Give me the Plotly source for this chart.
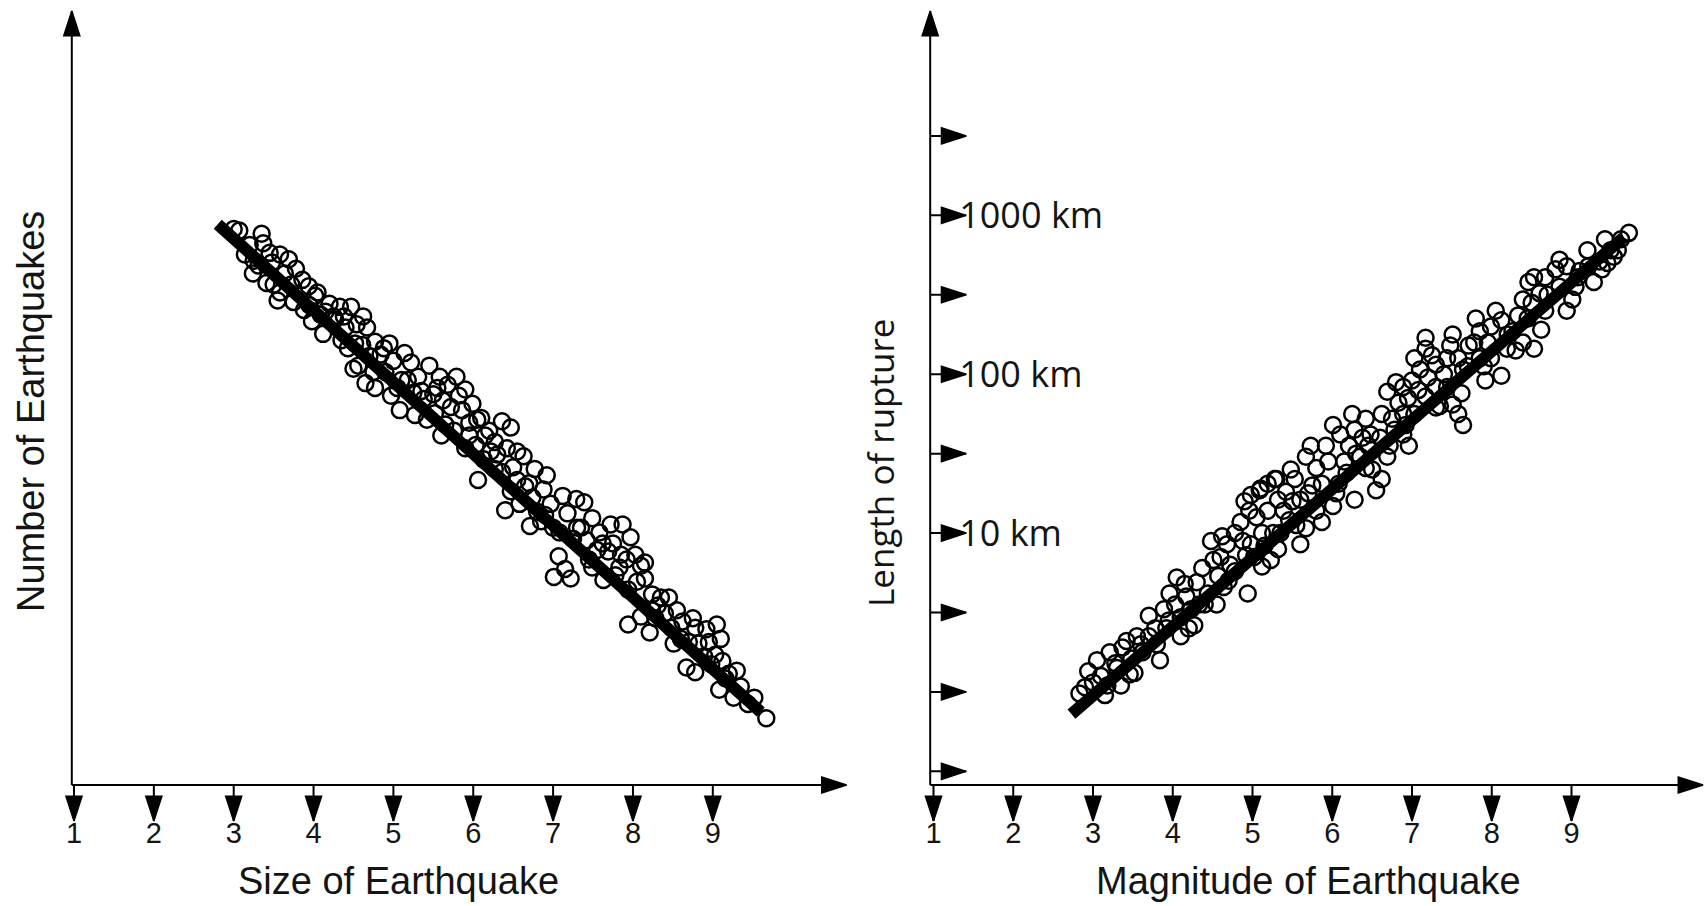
import plotly.graph_objects as go

W, H = 1706, 906

# ---------------- tick definitions ----------------
mag_ticks = [1, 2, 3, 4, 5, 6, 7, 8, 9]
mag_labels = ["1", "2", "3", "4", "5", "6", "7", "8", "9"]
rupture_arrow_log = [-0.5, 0, 0.5, 1, 1.5, 2, 2.5, 3, 3.5]   # log10(km) of the arrow ticks
rupture_label_km = [10, 100, 1000]
rupture_label_text = ["10 km", "100 km", "1000 km"]

# ---------------- left panel: size vs log10(number) ----------------
size_mag = [3.07, 3.35, 3.37, 3.14, 3.31, 3.24, 3.41, 3.58, 3.69, 3.64, 3.78, 3.86, 3.58, 3.75, 3.94, 4.02, 3.88, 4.09, 3.48,
            4.20, 4.33, 4.47, 4.27, 4.12, 4.40, 4.54, 4.67, 4.61, 4.43, 4.77, 4.84, 4.56, 4.65, 4.90, 5.00, 5.14, 5.22, 4.97, 5.08, 4.77,
            5.31, 5.45, 5.58, 5.68, 5.79, 5.90, 5.38, 5.52, 5.65, 5.76, 5.27, 5.86, 5.99, 6.10, 6.20, 6.03, 6.13, 6.06, 6.27, 6.36, 6.47, 5.90, 5.72, 6.27,
            6.36, 6.50, 6.63, 6.77, 6.47, 6.58, 6.40, 6.74, 6.88, 6.97, 6.85, 6.71, 7.08, 7.18, 7.29, 7.39, 7.49, 7.07, 7.15, 7.22, 7.01, 7.42,
            7.58, 7.72, 7.87, 7.97, 8.03, 8.10, 7.69, 7.83, 7.94, 7.49, 7.63, 8.24, 8.31, 7.94, 8.10, 8.21, 8.40, 8.48, 8.62, 8.78, 8.24,
            8.92, 9.05, 8.67, 8.78, 8.89, 9.03, 9.12, 9.16, 9.08, 9.26, 9.44, 9.67, 8.51, 8.82,
            3.20, 3.50, 3.95, 4.15, 4.35, 4.50, 4.70, 4.95, 5.10, 5.25, 5.50, 5.60, 5.95, 6.15, 6.30, 6.55,
            6.65, 6.90, 7.00, 7.30, 7.55, 7.75, 7.85, 8.05, 8.15, 8.35, 8.55, 8.70, 8.95, 9.20, 9.35,
            3.00, 3.25, 3.45, 3.55, 3.72, 3.98, 4.05, 4.25, 4.38, 4.52, 4.62, 4.75, 4.88, 5.05, 5.18, 5.35,
            5.42, 5.55, 5.62, 5.82, 5.95, 6.05, 6.22, 6.42, 6.55, 6.70, 6.80, 6.92, 7.12, 7.25, 7.35, 7.45,
            7.62, 7.78, 7.92, 8.15, 8.28, 8.45, 8.60, 8.75, 8.98, 9.10, 9.30, 9.52]
size_logn = [3.49, 3.47, 3.41, 3.34, 3.27, 3.22, 3.16, 3.34, 3.31, 3.22, 3.25, 3.18, 3.10, 3.04, 3.14, 3.08, 2.99, 2.96, 3.29,
             3.03, 3.01, 3.01, 2.93, 2.84, 2.88, 2.90, 2.88, 2.77, 2.75, 2.79, 2.71, 2.64, 2.53, 2.60, 2.67, 2.72, 2.66, 2.45, 2.36, 2.50,
             2.57, 2.64, 2.57, 2.52, 2.57, 2.49, 2.43, 2.34, 2.27, 2.23, 2.33, 2.36, 2.40, 2.31, 2.23, 2.14, 2.05, 1.92, 2.16, 2.29, 2.25, 2.12, 2.38, 1.99,
             1.97, 2.00, 2.07, 1.99, 1.85, 1.77, 1.73, 1.81, 1.86, 1.77, 1.66, 1.63, 1.59, 1.71, 1.80, 1.78, 1.68, 1.44, 1.36, 1.30, 1.31, 1.54,
             1.59, 1.64, 1.64, 1.56, 1.45, 1.38, 1.47, 1.37, 1.23, 1.37, 1.29, 1.20, 1.13, 1.01, 1.06, 0.96, 1.08, 0.99, 1.03, 0.99, 1.10,
             0.98, 1.01, 0.74, 0.71, 0.81, 0.82, 0.78, 0.67, 0.60, 0.55, 0.51, 0.42, 0.89, 0.89,
             3.40, 3.15, 3.02, 2.98, 2.80, 2.62, 2.70, 2.78, 2.55, 2.47, 2.46, 2.20, 2.28, 2.20, 2.08, 1.92,
             1.88, 1.70, 1.62, 1.62, 1.48, 1.52, 1.45, 1.28, 1.30, 1.18, 1.10, 0.90, 0.90, 0.70, 0.62,
             3.50, 3.30, 3.35, 3.05, 3.15, 2.92, 3.10, 2.95, 2.95, 2.78, 2.95, 2.60, 2.75, 2.50, 2.55, 2.48,
             2.30, 2.50, 2.42, 2.45, 2.20, 2.30, 2.10, 2.12, 2.10, 1.90, 1.72, 1.95, 1.82, 1.55, 1.62, 1.42,
             1.52, 1.32, 1.42, 1.40, 1.05, 1.18, 0.92, 1.05, 0.76, 0.92, 0.72, 0.55]
fit_size_mag = [2.80, 9.60]
fit_size_logn = [3.53, 0.46]

# ---------------- right panel: magnitude vs log10(rupture length, km) ----------------
rupt_mag = [2.83, 2.94, 3.10, 3.21, 3.28, 3.37, 3.48, 3.55, 3.62, 3.35, 3.18, 3.46,
            3.78, 3.89, 3.96, 4.03, 4.17, 4.10, 4.23, 4.30, 4.37, 4.44, 4.27, 4.10, 3.84,
            4.51, 4.57, 4.68, 4.78, 4.85, 4.96, 4.98, 5.09, 4.92, 4.78, 4.64, 4.55, 4.98, 5.12, 5.19, 4.94,
            5.19, 5.28, 5.32, 5.42, 5.53, 5.67, 5.73, 5.80, 5.87, 5.60, 5.46, 5.26, 5.23, 5.32, 5.12, 5.60, 5.67, 5.80, 5.87, 5.39,
            6.01, 6.10, 6.21, 6.28, 6.42, 6.48, 6.35, 6.18, 6.08, 6.55, 6.62, 6.28, 6.01, 6.62, 6.69, 6.83, 6.78, 6.89, 6.69, 6.42,
            7.03, 7.17, 7.10, 7.30, 7.44, 7.17, 7.51, 7.00, 6.89, 7.17, 7.30, 7.03, 6.96, 7.58, 7.71, 7.78, 7.64, 7.44, 7.58, 7.64, 7.51, 6.89, 7.30,
            7.85, 7.99, 8.12, 8.26, 8.33, 8.39, 8.46, 8.53, 8.60, 8.53, 8.39, 8.19, 7.99, 8.12, 7.92, 7.85,
            8.67, 8.80, 8.94, 9.01, 8.94, 9.08, 9.21, 9.35, 9.49, 9.62, 9.72, 9.28, 9.38, 9.53, 8.67,
            3.00, 3.30, 3.60, 3.70, 3.95, 4.15, 4.40, 4.60, 4.72, 4.88, 5.05, 5.15, 5.50, 5.70, 5.95, 6.15,
            6.30, 6.45, 6.60, 6.75, 6.95, 7.20, 7.40, 7.70, 7.95, 8.20, 8.45, 8.70, 8.85, 9.10, 9.45,
            2.90, 3.05, 3.15, 3.42, 3.52, 3.70, 3.80, 3.92, 4.05, 4.20, 4.33, 4.48, 4.62, 4.70, 4.90, 5.02,
            5.10, 5.30, 5.35, 5.48, 5.55, 5.75, 5.92, 6.05, 6.25, 6.38, 6.50, 6.72, 6.80, 6.92, 7.08, 7.25,
            7.35, 7.48, 7.62, 7.80, 7.90, 8.05, 8.30, 8.50, 8.62, 8.85, 9.05, 9.20, 9.42, 9.58]
rupt_log_km = [-0.01, 0.13, 0.10, 0.25, 0.18, 0.28, 0.21, 0.35, 0.25, 0.04, 0.04, 0.11,
               0.40, 0.52, 0.62, 0.55, 0.60, 0.47, 0.52, 0.69, 0.78, 0.62, 0.42, 0.35, 0.20,
               0.83, 0.73, 0.93, 1.00, 1.07, 1.14, 1.24, 1.27, 0.86, 0.76, 0.66, 0.55, 0.93, 1.00, 1.14, 0.62,
               1.31, 1.34, 1.21, 1.26, 1.34, 1.48, 1.55, 1.41, 1.31, 1.21, 1.08, 1.00, 0.83, 0.90, 0.79, 0.93, 1.03, 1.14, 1.07, 1.14,
               1.68, 1.62, 1.55, 1.65, 1.72, 1.62, 1.48, 1.38, 1.31, 1.27, 1.34, 1.21, 1.17, 1.75, 1.89, 1.82, 1.65, 1.62, 1.48, 1.41,
               2.10, 2.16, 2.03, 2.06, 2.10, 2.23, 2.25, 1.96, 1.92, 1.86, 1.79, 1.75, 1.55, 2.10, 2.18, 2.20, 2.03, 1.92, 1.75, 1.68, 1.81, 1.75, 1.92,
               2.27, 2.30, 2.34, 2.27, 2.37, 2.47, 2.58, 2.61, 2.51, 2.16, 2.20, 2.16, 2.10, 1.99, 1.96, 2.10,
               2.61, 2.66, 2.68, 2.47, 2.40, 2.61, 2.68, 2.71, 2.78, 2.85, 2.89, 2.58, 2.66, 2.74, 2.40,
               0.06, 0.15, 0.30, 0.35, 0.45, 0.68, 0.55, 0.85, 0.80, 0.95, 1.10, 0.92, 1.20, 1.25, 1.45, 1.45,
               1.50, 1.55, 1.60, 1.72, 1.85, 1.98, 2.00, 2.05, 2.20, 2.25, 2.35, 2.50, 2.55, 2.65, 2.70,
               0.03, 0.20, -0.02, 0.32, 0.12, 0.48, 0.30, 0.40, 0.72, 0.40, 0.55, 0.95, 0.98, 0.70, 1.20, 0.85,
               1.28, 1.34, 1.00, 1.40, 1.05, 1.30, 1.55, 1.25, 1.75, 1.60, 1.40, 1.55, 1.95, 1.68, 1.90, 2.12,
               1.80, 2.18, 1.88, 2.35, 2.05, 2.40, 2.15, 2.45, 2.28, 2.72, 2.55, 2.78, 2.85, 2.78]
fit_rupt_mag = [2.73, 9.65]
fit_rupt_log_km = [-0.14, 2.86]

rupt_km = [10 ** v for v in rupt_log_km]
fit_rupt_km = [10 ** v for v in fit_rupt_log_km]

# ---------------- figure ----------------
LEFT_FONT = "Liberation Sans, Arial, sans-serif"
RIGHT_FONT = "Open Sans, Liberation Sans, sans-serif"
INK = "#141414"

marker = dict(symbol="circle-open", size=16, color="black", line=dict(width=2.5))

# pixel geometry of the page (axis line at y = 785 px)
AX_PX = 785.0
Y_PX_PER_UNIT = 158.85     # pixels per decade (both panels)
LX_PX_PER_UNIT = 79.85
RX_PX_PER_UNIT = 79.75

# axis ranges (data units); log axis ranges are log10(km)
L_XMIN, L_XMAX = 1 - 74 / LX_PX_PER_UNIT, 1 + (853 - 74) / LX_PX_PER_UNIT
L_AXIS_X = 1 + (71.8 - 74) / LX_PX_PER_UNIT
L_Y0 = 0.0
L_YMIN, L_YMAX = -(H - AX_PX) / Y_PX_PER_UNIT, AX_PX / Y_PX_PER_UNIT
R_XMIN, R_XMAX = 1 - (933.5 - 853) / RX_PX_PER_UNIT, 1 + (W - 933.5) / RX_PX_PER_UNIT
R_AXIS_X = 1 + (930.2 - 933.5) / RX_PX_PER_UNIT
R_Y0 = -0.586
R_YMIN, R_YMAX = R_Y0 - (H - AX_PX) / Y_PX_PER_UNIT, R_Y0 + AX_PX / Y_PX_PER_UNIT

TICK_DROP = 36 / Y_PX_PER_UNIT       # length of downward tick arrows
TOP_GAP = 11 / Y_PX_PER_UNIT         # gap between y-axis arrow tip and page top

# plotly "arrow" marker: tip sits on the point; width ~1.24 r, length ~1.9 r
HEAD_SIZE = 26
ANGLE = {"up": 0, "right": 90, "down": 180}


def arrows_trace(segments, xa, ya, ytrans=lambda v: v):
    """segments: (tail, tip, direction) in axis units; draw stems + arrowheads."""
    lx, ly, hx, hy, ha = [], [], [], [], []
    for tail, tip, d in segments:
        lx += [tail[0], tip[0], None]
        ly += [ytrans(tail[1]), ytrans(tip[1]), None]
        hx.append(tip[0])
        hy.append(ytrans(tip[1]))
        ha.append(ANGLE[d])
    stems = go.Scatter(x=lx, y=ly, mode="lines", line=dict(color="black", width=2),
                       xaxis=xa, yaxis=ya, cliponaxis=False, showlegend=False, hoverinfo="skip")
    heads = go.Scatter(x=hx, y=hy, mode="markers",
                       marker=dict(symbol="arrow", size=HEAD_SIZE, angle=ha, color="black",
                                   line=dict(width=1.5, color="black")),
                       xaxis=xa, yaxis=ya, cliponaxis=False, showlegend=False, hoverinfo="skip")
    return [stems, heads]


left_segments = [((L_AXIS_X, L_Y0), (L_AXIS_X, L_YMAX - TOP_GAP), "up"),
                 ((L_AXIS_X, L_Y0), (10.674, L_Y0), "right")]
left_segments += [((k, L_Y0), (k, L_Y0 - TICK_DROP), "down") for k in mag_ticks]

right_segments = [((R_AXIS_X, R_Y0), (R_AXIS_X, R_YMAX - TOP_GAP), "up"),
                  ((R_AXIS_X, R_Y0), (10.649, R_Y0), "right")]
right_segments += [((k, R_Y0), (k, R_Y0 - TICK_DROP), "down") for k in mag_ticks]
right_segments += [((R_AXIS_X, t), (R_AXIS_X + 36 / RX_PX_PER_UNIT, t), "right") for t in rupture_arrow_log]

fig = go.Figure()
fig.add_trace(go.Scatter(x=size_mag, y=size_logn, mode="markers", marker=marker,
                         xaxis="x", yaxis="y", showlegend=False, hoverinfo="skip"))
fig.add_trace(go.Scatter(x=fit_size_mag, y=fit_size_logn, mode="lines",
                         line=dict(color="black", width=12), xaxis="x", yaxis="y",
                         showlegend=False, hoverinfo="skip"))
fig.add_trace(go.Scatter(x=rupt_mag, y=rupt_km, mode="markers", marker=marker,
                         xaxis="x2", yaxis="y2", showlegend=False, hoverinfo="skip"))
fig.add_trace(go.Scatter(x=fit_rupt_mag, y=fit_rupt_km, mode="lines",
                         line=dict(color="black", width=12), xaxis="x2", yaxis="y2",
                         showlegend=False, hoverinfo="skip"))
for tr in arrows_trace(left_segments, "x", "y"):
    fig.add_trace(tr)
for tr in arrows_trace(right_segments, "x2", "y2", ytrans=lambda v: 10 ** v):
    fig.add_trace(tr)

# titles
ann = []
ann.append(dict(xref="paper", yref="paper", x=398.5 / W, y=1 - 881 / H, text="Size of Earthquake",
                showarrow=False, xanchor="center", yanchor="middle",
                font=dict(family=LEFT_FONT, size=38, color=INK)))
ann.append(dict(xref="paper", yref="paper", x=1308 / W, y=1 - 881 / H, text="Magnitude of Earthquake",
                showarrow=False, xanchor="center", yanchor="middle",
                font=dict(family=LEFT_FONT, size=38, color=INK)))
ann.append(dict(xref="paper", yref="paper", x=31 / W, y=1 - 412 / H, text="Number of Earthquakes",
                showarrow=False, xanchor="center", yanchor="middle", textangle=-90,
                font=dict(family=LEFT_FONT, size=38, color=INK)))
ann.append(dict(xref="paper", yref="paper", x=881 / W, y=1 - 463 / H, text="Length of rupture",
                showarrow=False, xanchor="center", yanchor="middle", textangle=-90,
                font=dict(family=RIGHT_FONT, size=35, color=INK)))

AXIS_POS = (H - AX_PX) / H
common_x = dict(showgrid=False, zeroline=False, showline=False, ticks="",
                tickmode="array", tickvals=mag_ticks, ticktext=mag_labels,
                tickfont=dict(family=LEFT_FONT, size=29, color=INK), ticklabelstandoff=28,
                anchor="free", position=AXIS_POS)

fig.update_layout(
    width=W, height=H, margin=dict(l=0, r=0, t=0, b=0),
    paper_bgcolor="white", plot_bgcolor="rgba(0,0,0,0)",
    showlegend=False,
    xaxis=dict(domain=[0, 853 / W], range=[L_XMIN, L_XMAX], **common_x),
    yaxis=dict(domain=[0, 1], range=[L_YMIN, L_YMAX], anchor="x", visible=False),
    xaxis2=dict(domain=[853 / W, 1], range=[R_XMIN, R_XMAX], **common_x),
    yaxis2=dict(domain=[0, 1], range=[R_YMIN, R_YMAX], type="log",
                anchor="free", position=930.2 / W, side="right",
                showgrid=False, zeroline=False, showline=False, ticks="",
                tickmode="array", tickvals=rupture_label_km, ticktext=rupture_label_text,
                ticklabelposition="outside", ticklabelstandoff=28,
                tickfont=dict(family=RIGHT_FONT, size=36, color=INK)),
    annotations=ann,
)

fig.write_html("out.html")
